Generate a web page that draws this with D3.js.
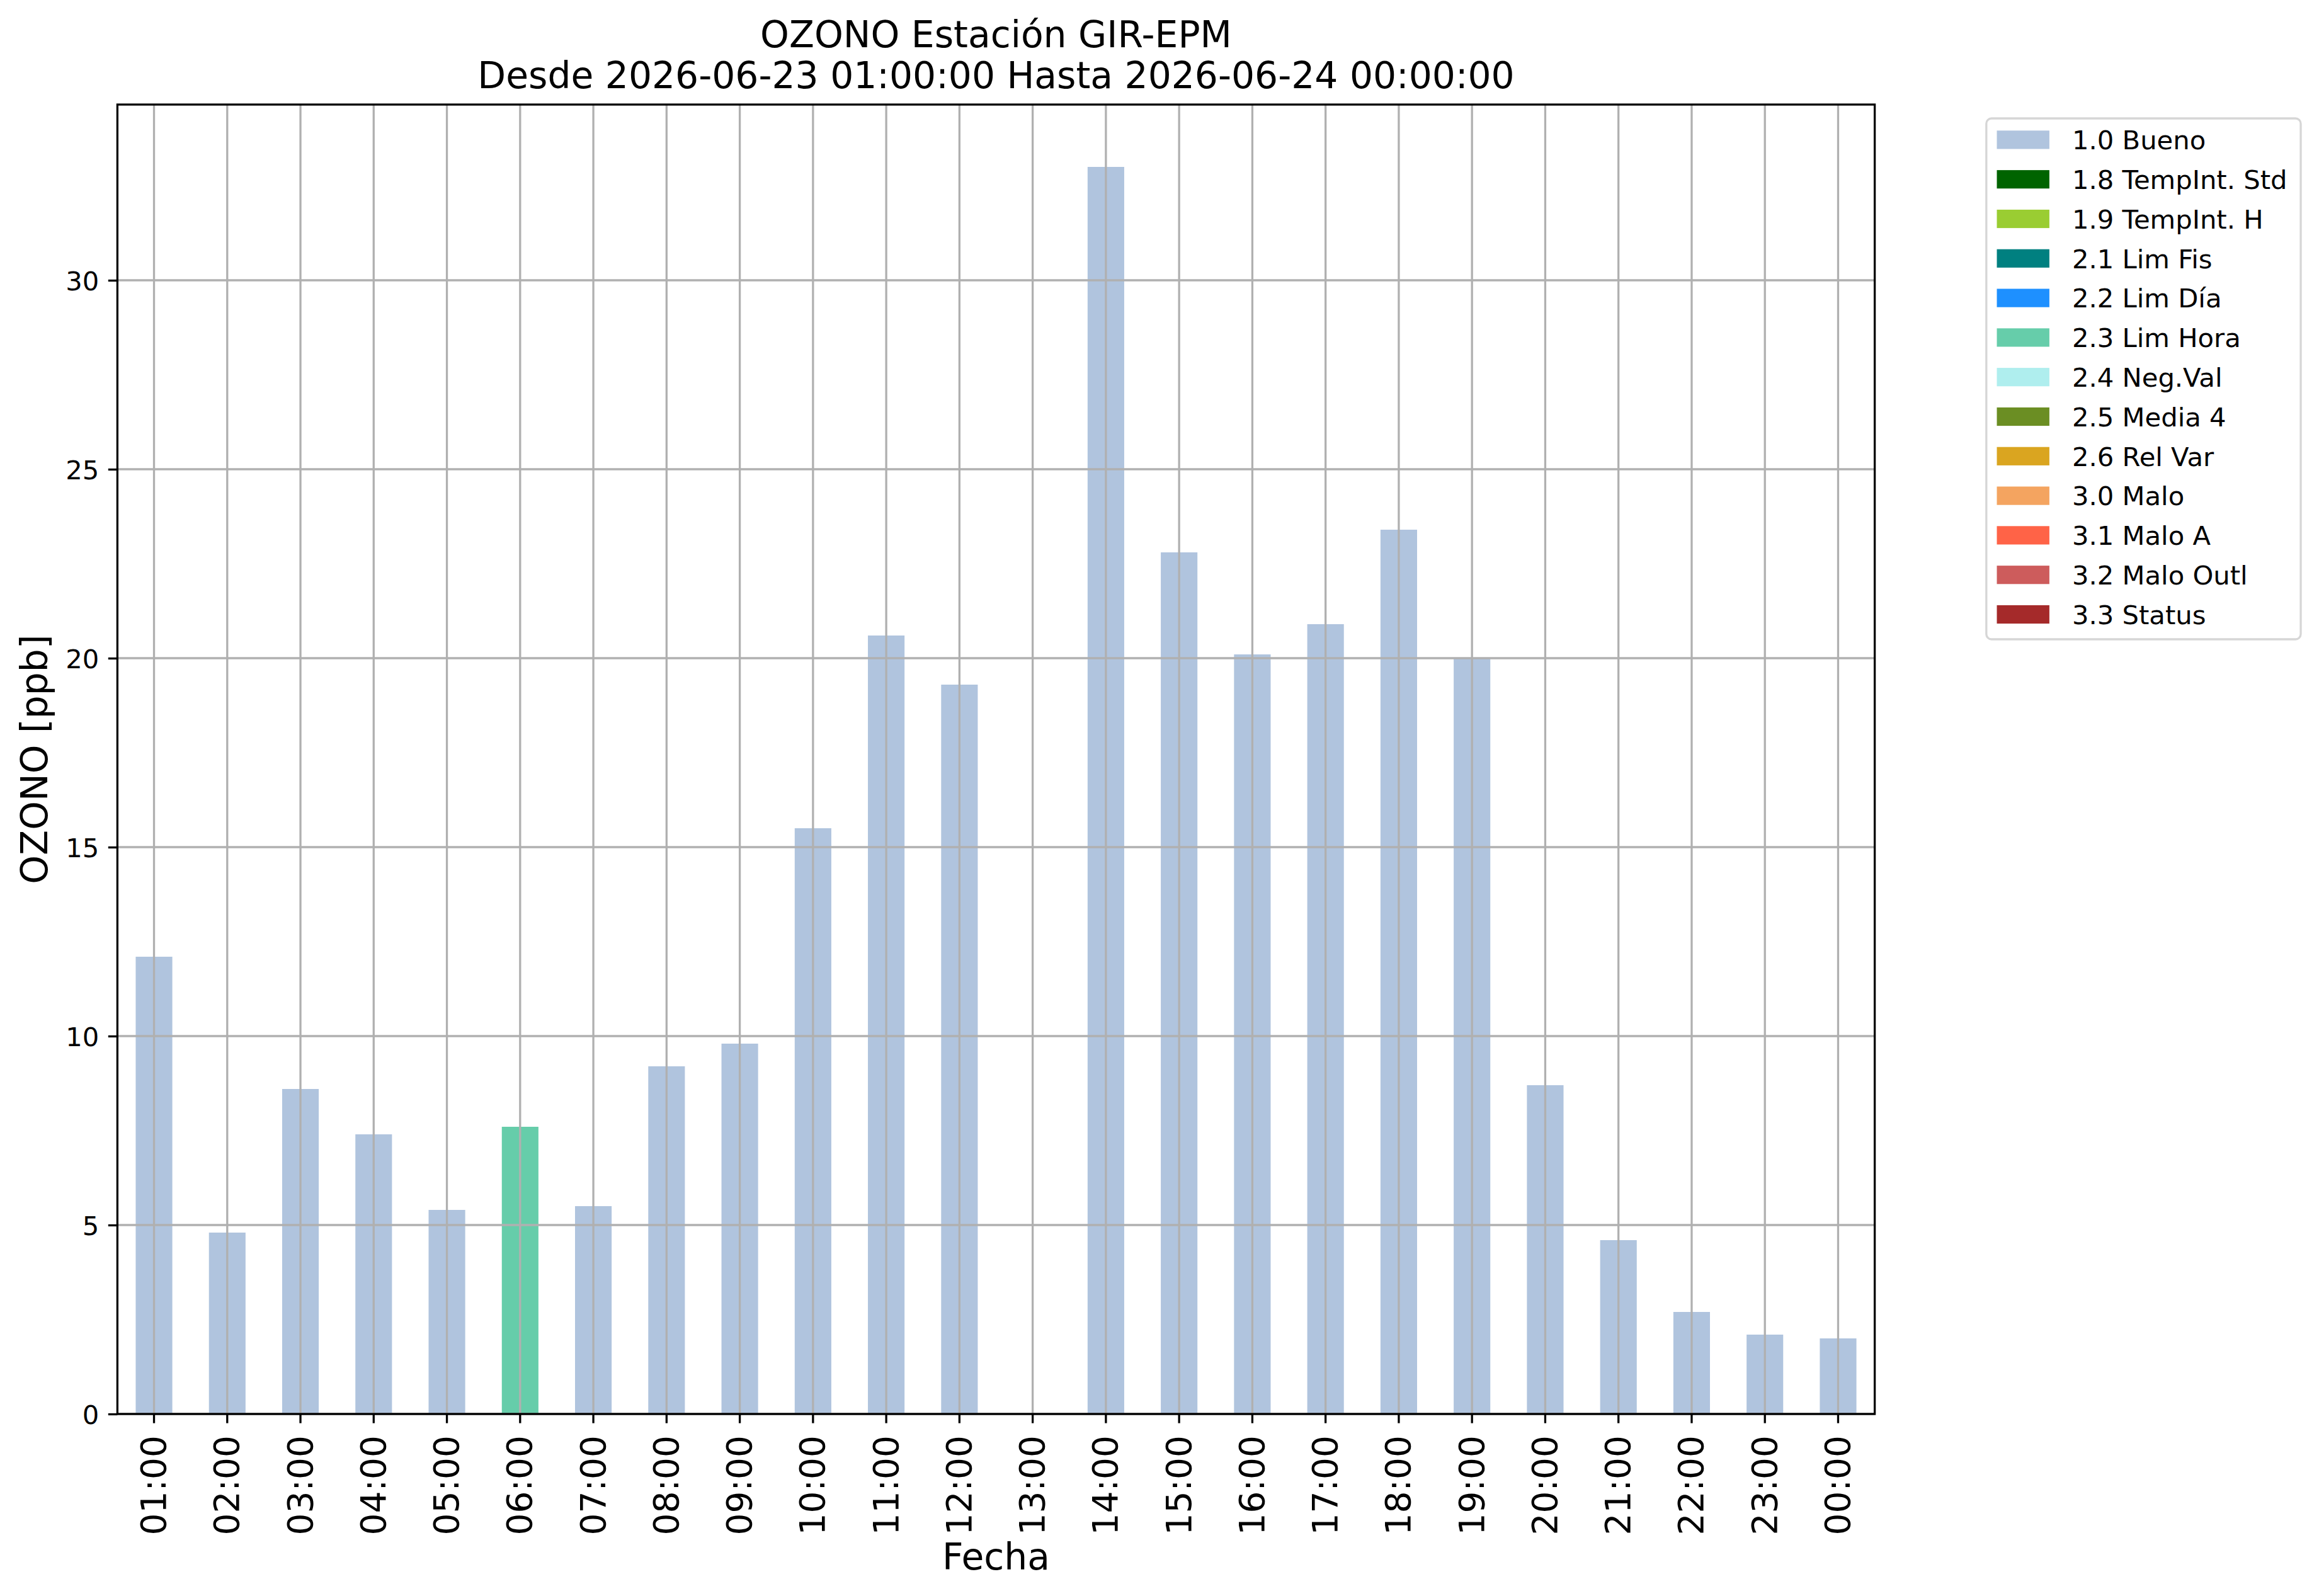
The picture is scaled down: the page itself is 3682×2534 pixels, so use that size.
<!DOCTYPE html>
<html>
<head>
<meta charset="utf-8">
<script src="https://cdn.jsdelivr.net/npm/d3@7"></script>
<style>
  body { margin: 0; background: white; }
  text { font-family: "DejaVu Sans", sans-serif; fill: black; }
</style>
</head>
<body>
<div id="chart"></div>
<script>
const hours = ['01:00', '02:00', '03:00', '04:00', '05:00', '06:00', '07:00', '08:00',
  '09:00', '10:00', '11:00', '12:00', '13:00', '14:00', '15:00', '16:00',
  '17:00', '18:00', '19:00', '20:00', '21:00', '22:00', '23:00', '00:00'];
const ozone = [12.1, 4.8, 8.6, 7.4, 5.4, 7.6, 5.5, 9.2, 9.8, 15.5, 20.6, 19.3,
  null, 33.0, 22.8, 20.1, 20.9, 23.4, 20.0, 8.7, 4.6, 2.7, 2.1, 2.0];
const flags = ['1.0', '1.0', '1.0', '1.0', '1.0', '2.3', '1.0', '1.0', '1.0', '1.0', '1.0', '1.0',
  '1.0', '1.0', '1.0', '1.0', '1.0', '1.0', '1.0', '1.0', '1.0', '1.0', '1.0', '1.0'];
const flagCodes = ['1.0', '1.8', '1.9', '2.1', '2.2', '2.3', '2.4', '2.5', '2.6', '3.0', '3.1', '3.2', '3.3'];
const flagNames = ['1.0 Bueno', '1.8 TempInt. Std', '1.9 TempInt. H', '2.1 Lim Fis', '2.2 Lim Día',
  '2.3 Lim Hora', '2.4 Neg.Val', '2.5 Media 4', '2.6 Rel Var', '3.0 Malo', '3.1 Malo A',
  '3.2 Malo Outl', '3.3 Status'];
const flagColors = ['lightsteelblue', 'darkgreen', 'yellowgreen', 'teal', 'dodgerblue',
  'mediumaquamarine', 'paleturquoise', 'olivedrab', 'goldenrod', 'sandybrown', 'tomato',
  'indianred', 'brown'];
const yTicks = [0, 5, 10, 15, 20, 25, 30];

class BarChart {

  constructor(containerEl, props) {
    this.props = props;
    const { width, height } = props;
    this.svg = d3.select(containerEl)
      .append('svg')
      .style('background-color', 'white')
      .attr('width', width)
      .attr('height', height);

    const plot = { left: 186.4, right: 2976.6, top: 166, bottom: 2245 };
    this.plot = plot;
    this.x = d3.scaleBand()
      .domain(hours)
      .range([plot.left, plot.right])
      .paddingInner(0.5)
      .paddingOuter(0.25);
    this.y = d3.scaleLinear()
      .domain([0, d3.max(ozone) * 1.05])
      .range([plot.bottom, plot.top]);
    this.color = d3.scaleOrdinal().domain(flagCodes).range(flagColors);

    this.drawBars();
    this.drawGrid();
    this.drawAxes();
    this.drawTitles();
    this.drawLegend();
  }

  drawBars = () => {
    const { svg, x, y, color } = this;
    const rows = hours.map((h, i) => ({ hour: h, value: ozone[i], flag: flags[i] }))
      .filter(d => d.value != null);
    svg.append('g').selectAll('rect')
      .data(rows)
      .enter()
      .append('rect')
      .attr('x', d => x(d.hour))
      .attr('width', x.bandwidth())
      .attr('y', d => y(d.value))
      .attr('height', d => y(0) - y(d.value))
      .style('fill', d => color(d.flag));
  }

  drawGrid = () => {
    const { svg, x, y, plot } = this;
    const half = x.bandwidth() / 2;
    const g = svg.append('g')
      .style('stroke', '#b0b0b0')
      .style('stroke-width', 3.3);
    g.selectAll('.vgrid')
      .data(hours)
      .enter()
      .append('line')
      .attr('x1', d => x(d) + half)
      .attr('x2', d => x(d) + half)
      .attr('y1', plot.top)
      .attr('y2', plot.bottom);
    g.selectAll('.hgrid')
      .data(yTicks)
      .enter()
      .append('line')
      .attr('x1', plot.left)
      .attr('x2', plot.right)
      .attr('y1', d => y(d))
      .attr('y2', d => y(d));
  }

  drawAxes = () => {
    const { svg, x, y, plot } = this;
    const tickLen = 14.6;

    const yAxis = svg.append('g')
      .attr('transform', `translate(${plot.left},0)`)
      .call(d3.axisLeft(y).tickValues(yTicks).tickSize(tickLen).tickPadding(14.6));
    yAxis.select('.domain').remove();
    yAxis.selectAll('.tick line').style('stroke', 'black').style('stroke-width', 3.3);
    yAxis.selectAll('.tick text')
      .style('font-family', '"DejaVu Sans"')
      .style('font-size', '41.7px')
      .attr('dy', 15.2);

    const xAxis = svg.append('g')
      .attr('transform', `translate(0,${plot.bottom})`)
      .call(d3.axisBottom(x).tickSize(tickLen).tickPadding(0));
    xAxis.select('.domain').remove();
    xAxis.selectAll('.tick line').style('stroke', 'black').style('stroke-width', 3.3);
    // rotated labels, digit centre on the tick
    xAxis.selectAll('.tick text')
      .style('font-family', '"DejaVu Sans"')
      .style('font-size', '55px')
      .attr('text-anchor', 'end')
      .attr('dy', null)
      .attr('y', null)
      .attr('transform', 'translate(18.5,34) rotate(-90)');

    svg.append('rect')
      .attr('x', plot.left)
      .attr('y', plot.top)
      .attr('width', plot.right - plot.left)
      .attr('height', plot.bottom - plot.top)
      .style('fill', 'none')
      .style('stroke', 'black')
      .style('stroke-width', 3.3);
  }

  drawTitles = () => {
    const { svg, plot } = this;
    const cx = (plot.left + plot.right) / 2;
    const cy = (plot.top + plot.bottom) / 2;
    const title = svg.append('text')
      .attr('text-anchor', 'middle')
      .style('font-size', '58.3px');
    title.append('tspan').attr('x', cx).attr('y', 75).text('OZONO Estación GIR-EPM');
    title.append('tspan').attr('x', cx).attr('y', 140)
      .text('Desde 2026-06-23 01:00:00 Hasta 2026-06-24 00:00:00');

    svg.append('text')
      .attr('text-anchor', 'middle')
      .attr('transform', `translate(75,${cy}) rotate(-90)`)
      .style('font-size', '58.3px')
      .text('OZONO [ppb]');

    svg.append('text')
      .attr('text-anchor', 'middle')
      .attr('x', cx)
      .attr('y', 2491.7)
      .style('font-size', '58.3px')
      .text('Fecha');
  }

  drawLegend = () => {
    const { svg } = this;
    const rowH = 62.8;
    const legend = svg.append('g');
    legend.append('rect')
      .attr('x', 3153.8)
      .attr('y', 188)
      .attr('width', 3653 - 3153.8)
      .attr('height', 1015 - 188)
      .attr('rx', 8.3)
      .style('fill', 'white')
      .style('stroke', '#d6d6d6')
      .style('stroke-width', 3.3);
    const rows = legend.selectAll('.item')
      .data(flagCodes)
      .enter()
      .append('g')
      .attr('transform', (d, i) => `translate(0,${207.3 + i * rowH})`);
    rows.append('rect')
      .attr('x', 3170.5)
      .attr('width', 83.4)
      .attr('height', 29.2)
      .style('fill', d => this.color(d));
    rows.append('text')
      .attr('x', 3290)
      .attr('y', 14.6 + 15.2)
      .style('font-size', '41.7px')
      .text((d, i) => flagNames[i]);
  }
}

new BarChart(document.getElementById('chart'), { width: 3682, height: 2534 });
</script>
</body>
</html>
